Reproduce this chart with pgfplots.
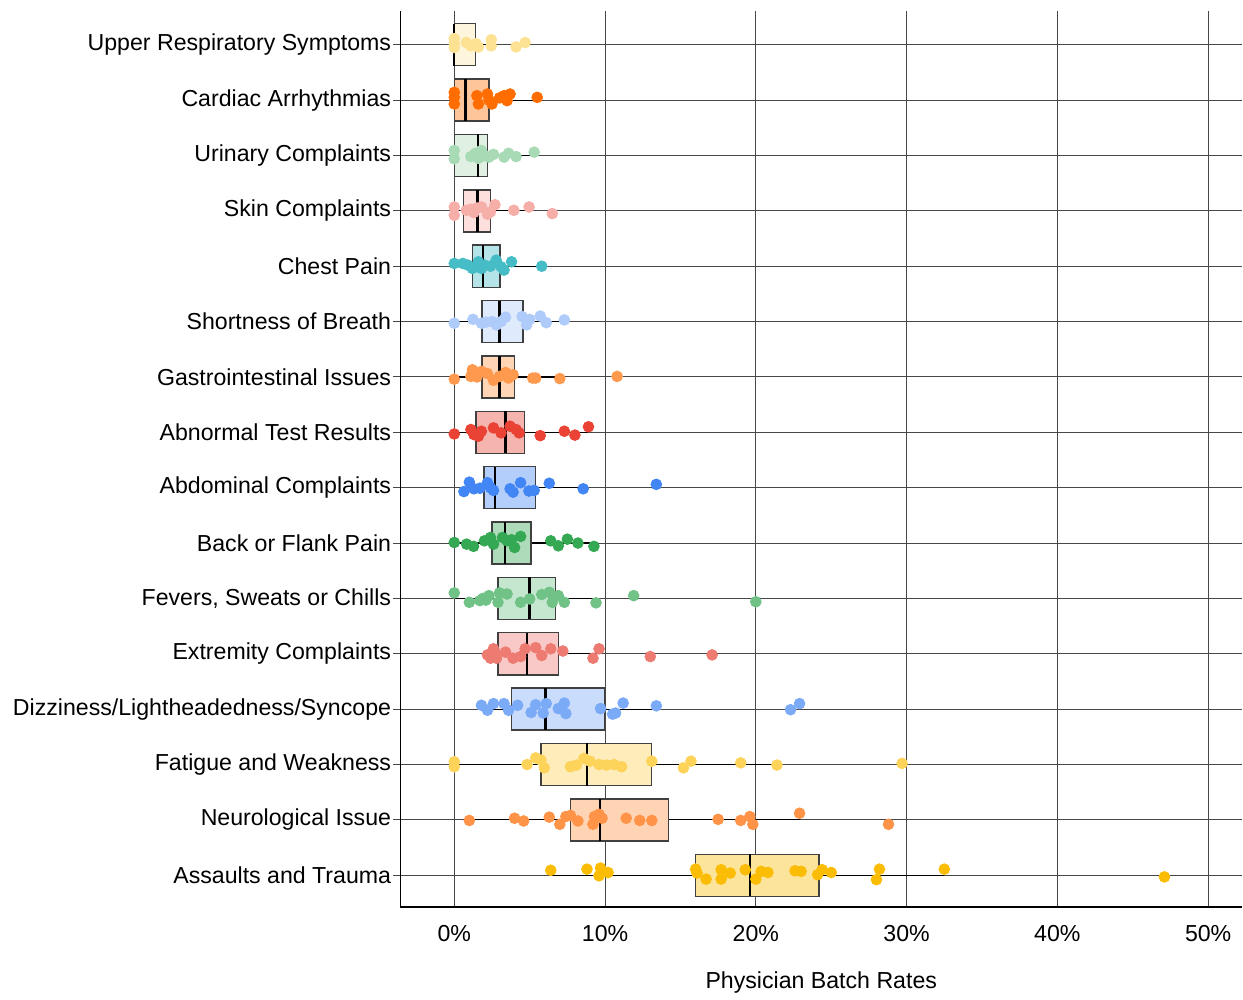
\documentclass[border={5.5pt 0pt 0pt 5pt}]{standalone}
\usepackage{pgfplots}
\pgfplotsset{compat=1.18}
\usepgfplotslibrary{statistics}
\usepackage{fontspec}
\setmainfont{Liberation Sans}

\definecolor{p0}{HTML}{FDE293}\definecolor{b0}{HTML}{FEF6DC}
\definecolor{p1}{HTML}{FF6D00}\definecolor{b1}{HTML}{FFC59A}
\definecolor{p2}{HTML}{A8DAB5}\definecolor{b2}{HTML}{E0F1E4}
\definecolor{p3}{HTML}{F6AEA9}\definecolor{b3}{HTML}{FDE0DE}
\definecolor{p4}{HTML}{46BDC6}\definecolor{b4}{HTML}{B5E4E8}
\definecolor{p5}{HTML}{AECBFA}\definecolor{b5}{HTML}{E0EAFD}
\definecolor{p6}{HTML}{FF994D}\definecolor{b6}{HTML}{FFD5B6}
\definecolor{p7}{HTML}{EA4335}\definecolor{b7}{HTML}{F5B4AE}
\definecolor{p8}{HTML}{4285F4}\definecolor{b8}{HTML}{B3CEFB}
\definecolor{p9}{HTML}{34A853}\definecolor{b9}{HTML}{AEDCBA}
\definecolor{p10}{HTML}{71C287}\definecolor{b10}{HTML}{C6E7CF}
\definecolor{p11}{HTML}{EE7B72}\definecolor{b11}{HTML}{F8C9C6}
\definecolor{p12}{HTML}{7BAAF7}\definecolor{b12}{HTML}{CADCFC}
\definecolor{p13}{HTML}{FDD35A}\definecolor{b13}{HTML}{FEEDBA}
\definecolor{p14}{HTML}{FF9347}\definecolor{b14}{HTML}{FFD4B5}
\definecolor{p15}{HTML}{FBBC04}\definecolor{b15}{HTML}{FDE49B}

\pgfplotstableread{
x y
0 -0.11
0 -0.02
0 0.05
0.8 -0.04
1.1 0.02
1.45 -0.02
1.6 0.04
2.45 -0.09
2.45 0.02
4.1 0.04
4.7 -0.04
}\rowA
\pgfplotstableread{
x y
0 0.86
0 0.95
0 1.07
1.5 0.92
1.6 1.07
2.2 0.89
2.3 1.00
2.5 1.07
3.0 0.96
3.3 0.92
3.5 1.01
3.7 0.89
5.5 0.95
}\rowB
\pgfplotstableread{
x y
0 1.91
0 2.06
1.1 2.02
1.4 1.96
1.6 2.05
1.8 1.91
2.0 2.00
2.3 2.03
2.6 1.98
3.3 2.03
3.6 1.96
4.1 2.02
5.3 1.94
}\rowC
\pgfplotstableread{
x y
0 2.93
0 3.08
0.8 2.99
1.1 2.97
1.3 3.03
1.5 2.95
1.8 2.93
2.2 3.06
2.4 3.02
2.7 2.89
3.95 2.99
4.96 2.93
6.5 3.05
}\rowD
\pgfplotstableread{
x y
0 3.95
0.57 3.95
0.9 3.98
1.2 4.04
1.6 3.92
1.8 4.04
2.0 3.98
2.4 4.00
2.78 3.89
3.1 4.01
3.3 4.07
3.8 3.92
5.8 4.00
}\rowE
\pgfplotstableread{
x y
0 5.03
1.24 4.96
1.8 5.03
2.1 5.01
2.5 5.00
2.8 5.06
3.1 5.00
3.4 4.92
4.5 4.91
4.8 5.06
5.0 4.96
5.7 4.90
6.1 5.02
7.3 4.97
}\rowF
\pgfplotstableread{
x y
0 6.04
1.1 5.99
1.2 5.87
1.5 6.00
1.8 5.90
2.2 5.94
2.6 6.06
3.0 5.99
3.4 5.92
3.6 6.02
3.9 5.96
5.2 6.02
5.4 6.02
7.0 6.03
10.8 5.99
}\rowG
\pgfplotstableread{
x y
0 7.03
1.1 6.95
1.3 7.04
1.6 7.07
1.8 6.98
2.6 6.92
3.1 7.01
3.7 6.89
4.1 6.95
4.3 7.01
5.7 7.06
7.3 6.98
8.0 7.05
8.9 6.90
}\rowH
\pgfplotstableread{
x y
0.64 8.07
1.0 7.90
1.3 8.02
1.7 8.01
2.2 7.91
2.4 8.00
2.6 8.05
3.7 8.02
3.9 8.08
4.4 7.91
4.95 8.06
5.3 8.05
6.3 7.92
8.55 8.02
13.4 7.94
}\rowI
\pgfplotstableread{
x y
0 8.99
0.82 9.02
1.28 9.06
2.0 8.96
2.4 8.90
2.6 9.02
3.2 8.90
3.5 8.96
3.8 8.94
4.0 9.08
4.4 8.88
6.4 8.96
6.9 9.05
7.5 8.93
8.2 9.00
9.26 9.06
}\rowJ
\pgfplotstableread{
x y
0 9.90
1.0 10.07
1.7 10.04
1.9 10.00
2.1 10.03
2.3 9.95
2.9 10.07
3.0 9.90
3.5 9.92
4.4 10.07
5.0 10.01
5.8 9.93
6.3 9.89
6.5 10.07
6.9 9.95
7.3 10.07
9.4 10.08
11.9 9.95
20.0 10.06
}\rowK
\pgfplotstableread{
x y
2.2 11.02
2.4 11.08
2.6 10.91
2.7 10.97
2.8 11.08
3.4 10.97
3.9 11.08
4.4 11.05
4.7 10.91
5.4 10.89
5.8 11.03
6.4 10.91
7.2 10.95
9.2 11.08
9.6 10.91
13.0 11.05
17.1 11.02
}\rowL
\pgfplotstableread{
x y
1.8 11.93
2.2 12.02
2.6 11.90
3.3 11.90
3.6 12.02
4.2 11.93
5.1 12.06
5.4 11.92
5.9 12.07
6.1 11.90
6.9 11.99
7.3 11.89
7.4 12.08
9.7 11.99
10.5 12.09
10.7 12.07
11.2 11.89
13.4 11.94
22.3 12.01
22.9 11.90
}\rowM
\pgfplotstableread{
x y
0 12.95
0 13.04
4.83 13.00
5.4 12.88
5.75 12.92
5.97 13.06
7.7 13.04
8.1 13.01
8.6 12.89
9.0 12.94
9.6 13.00
10.1 13.01
10.6 13.00
11.1 13.04
13.1 12.94
15.2 13.06
15.7 12.94
19.0 12.97
21.4 13.01
29.7 12.98
}\rowN
\pgfplotstableread{
x y
1.0 14.01
4.0 13.97
4.6 14.02
6.3 13.95
7.0 14.08
7.4 13.94
7.7 13.92
8.2 14.02
9.2 14.08
9.3 13.94
9.6 13.90
9.8 13.97
11.4 13.97
12.3 14.01
13.1 14.01
17.5 13.99
19.0 14.01
19.6 13.94
19.8 14.08
22.9 13.88
28.8 14.08
}\rowO
\pgfplotstableread{
x y
6.4 14.91
8.8 14.89
9.6 15.01
9.7 14.87
10.2 14.95
16.0 14.89
16.1 14.96
16.7 15.07
17.7 14.90
17.7 15.07
18.3 14.96
19.3 14.90
20.0 15.07
20.35 14.93
20.8 14.95
22.6 14.92
23.0 14.93
24.1 14.99
24.4 14.90
25.0 14.95
28.0 15.08
28.2 14.89
32.5 14.89
47.1 15.03
}\rowP

\begin{document}
\begin{tikzpicture}
\begin{axis}[
  scale only axis, width=422pt, height=449.5pt,
  xmin=-3.57, xmax=52.25, ymin=-0.612, ymax=15.58, y dir=reverse,
  axis x line*=bottom, axis y line*=left,
  axis line style={line width=0.9pt, -},
  xtick={0,10,20,30,40,50},
  xticklabels={0\%,10\%,20\%,30\%,40\%,50\%},
  ytick={0,...,15},
  yticklabels={Upper Respiratory Symptoms, Cardiac Arrhythmias, Urinary Complaints, Skin Complaints, Chest Pain, Shortness of Breath, Gastrointestinal Issues, Abnormal Test Results, Abdominal Complaints, Back or Flank Pain, {Fevers, Sweats or Chills}, Extremity Complaints, Dizziness/Lightheadedness/Syncope, Fatigue and Weakness, Neurological Issue, Assaults and Trauma},
  grid=major, major grid style={line width=0.5pt, color=black!72},
  tick align=outside, major tick length=3.5pt,
  xtick style={draw=none},
  ytick style={draw=black!72, line width=0.5pt},
  ticklabel style={font=\fontsize{11.6}{13}\selectfont},
  yticklabel style={inner sep=1pt},
  xticklabel style={yshift=-2pt},
  xlabel={Physician Batch Rates},
  xlabel style={font=\fontsize{11.6}{13}\selectfont, yshift=-8pt},
  boxplot/draw direction=x,
  boxplot/box extend=0.76,
  boxplot/whisker extend=0,
  boxplot/every median/.style={draw=black, line width=1.2pt},
  boxplot/every whisker/.style={draw=black, line width=0.6pt},
  boxplot/every box/.style={draw=black!75, line width=0.7pt},
  clip=false,
]
\addplot[fill=b0, boxplot prepared={draw position=0, lower whisker=0, lower quartile=0, median=0, upper quartile=1.4, upper whisker=2.5}] coordinates {};
\addplot[fill=b1, boxplot prepared={draw position=1, lower whisker=0, lower quartile=0, median=0.75, upper quartile=2.3, upper whisker=5.5}] coordinates {};
\addplot[fill=b2, boxplot prepared={draw position=2, lower whisker=0, lower quartile=0, median=1.57, upper quartile=2.2, upper whisker=5.3}] coordinates {};
\addplot[fill=b3, boxplot prepared={draw position=3, lower whisker=0, lower quartile=0.6, median=1.54, upper quartile=2.4, upper whisker=5.0}] coordinates {};
\addplot[fill=b4, boxplot prepared={draw position=4, lower whisker=0, lower quartile=1.2, median=1.9, upper quartile=3.04, upper whisker=5.8}] coordinates {};
\addplot[fill=b5, boxplot prepared={draw position=5, lower whisker=0, lower quartile=1.83, median=3.0, upper quartile=4.56, upper whisker=7.3}] coordinates {};
\addplot[fill=b6, boxplot prepared={draw position=6, lower whisker=0, lower quartile=1.85, median=3.0, upper quartile=4.0, upper whisker=7.0}] coordinates {};
\addplot[fill=b7, boxplot prepared={draw position=7, lower whisker=0, lower quartile=1.43, median=3.4, upper quartile=4.67, upper whisker=8.9}] coordinates {};
\addplot[fill=b8, boxplot prepared={draw position=8, lower whisker=0.64, lower quartile=1.98, median=2.7, upper quartile=5.38, upper whisker=8.55}] coordinates {};
\addplot[fill=b9, boxplot prepared={draw position=9, lower whisker=0, lower quartile=2.49, median=3.37, upper quartile=5.09, upper whisker=9.26}] coordinates {};
\addplot[fill=b10, boxplot prepared={draw position=10, lower whisker=0, lower quartile=2.9, median=5.0, upper quartile=6.7, upper whisker=9.4}] coordinates {};
\addplot[fill=b11, boxplot prepared={draw position=11, lower whisker=2.2, lower quartile=2.9, median=4.83, upper quartile=6.9, upper whisker=9.65}] coordinates {};
\addplot[fill=b12, boxplot prepared={draw position=12, lower whisker=1.8, lower quartile=3.8, median=6.04, upper quartile=9.96, upper whisker=13.4}] coordinates {};
\addplot[fill=b13, boxplot prepared={draw position=13, lower whisker=0, lower quartile=5.75, median=8.8, upper quartile=13.1, upper whisker=21.4}] coordinates {};
\addplot[fill=b14, boxplot prepared={draw position=14, lower whisker=1.0, lower quartile=7.7, median=9.65, upper quartile=14.2, upper whisker=22.9}] coordinates {};
\addplot[fill=b15, boxplot prepared={draw position=15, lower whisker=6.4, lower quartile=16.0, median=19.6, upper quartile=24.2, upper whisker=32.5}] coordinates {};

\pgfplotsset{every axis plot/.append style={only marks, mark=*, mark size=2.7pt}}
\addplot[color=p0] table {\rowA};
\addplot[color=p1] table {\rowB};
\addplot[color=p2] table {\rowC};
\addplot[color=p3] table {\rowD};
\addplot[color=p4] table {\rowE};
\addplot[color=p5] table {\rowF};
\addplot[color=p6] table {\rowG};
\addplot[color=p7] table {\rowH};
\addplot[color=p8] table {\rowI};
\addplot[color=p9] table {\rowJ};
\addplot[color=p10] table {\rowK};
\addplot[color=p11] table {\rowL};
\addplot[color=p12] table {\rowM};
\addplot[color=p13] table {\rowN};
\addplot[color=p14] table {\rowO};
\addplot[color=p15] table {\rowP};
\end{axis}
\end{tikzpicture}
\end{document}
